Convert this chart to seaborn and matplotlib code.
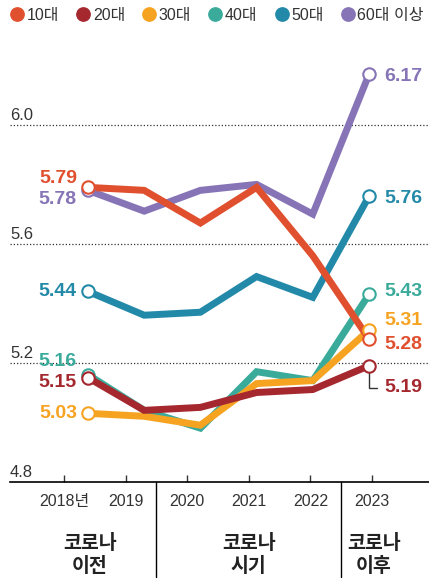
import numpy as np
import pandas as pd
import seaborn as sns
import matplotlib.pyplot as plt
from matplotlib.lines import Line2D

# values
years = [2018, 2019, 2020, 2021, 2022, 2023]
year_labels = ['2018년', '2019', '2020', '2021', '2022', '2023']
ages = ['10대', '20대', '30대', '40대', '50대', '60대 이상']
teens = [5.79, 5.78, 5.67, 5.79, 5.56, 5.28]
twenties = [5.15, 5.04, 5.05, 5.10, 5.11, 5.19]
thirties = [5.03, 5.02, 4.99, 5.13, 5.14, 5.31]
forties = [5.16, 5.04, 4.98, 5.17, 5.14, 5.43]
fifties = [5.44, 5.36, 5.37, 5.49, 5.42, 5.76]
sixties = [5.78, 5.71, 5.78, 5.80, 5.70, 6.17]
periods = ['코로나\n이전', '코로나\n시기', '코로나\n이후']
y_grid = [5.2, 5.6, 6.0]
y_labels = [4.8, 5.2, 5.6, 6.0]

colors = ['#e0502f', '#a5282f', '#f6a322', '#3aab9b', '#2389a8', '#8674b6']

series = [teens, twenties, thirties, forties, fifties, sixties]
df = pd.DataFrame({
    'year': years * len(ages),
    'age': [a for a in ages for _ in years],
    'value': [v for s in series for v in s],
})

sns.set_style('white')
plt.rcParams['font.family'] = ['Liberation Sans', 'Noto Sans CJK KR', 'DejaVu Sans']
txt = '#333333'

fig = plt.figure(figsize=(4.29, 5.82), dpi=100)
ax = fig.add_axes([10 / 429, 1 - 481.7 / 582, 419 / 429, (481.7 - 35.75) / 582])

# label offsets (points) for the end values
left_dy = [6.5, -3.6, 0, 9.4, 0, -6.8]
right_dy = [-4.3, -16, 7, 2, -1.4, -1.2]

for y in y_grid:
    ax.axhline(y, color=txt, lw=0.9, ls=(0, (1, 1.6)), zorder=1)

order = [5, 4, 3, 2, 0, 1]
for i in order:
    d = df[df['age'] == ages[i]]
    sns.lineplot(data=d, x='year', y='value', color=colors[i], lw=5,
                 ax=ax, legend=False, zorder=3 + order.index(i) * 0.1,
                 solid_joinstyle='miter')

# leader for 5.19
ax.plot([years[-1], years[-1], years[-1] + 0.14],
        [twenties[-1], twenties[-1] - 0.075, twenties[-1] - 0.075],
        color=txt, lw=1, zorder=2, solid_joinstyle='miter')

ends = df[df['year'].isin([years[0], years[-1]])]
for i in order:
    e = ends[ends['age'] == ages[i]]
    sns.scatterplot(data=e, x='year', y='value', ax=ax, s=80, color='white',
                    edgecolor=colors[i], linewidth=1.5, zorder=5, legend=False)

for i, s in enumerate(series):
    ax.annotate(f'{s[0]:.2f}', (years[0], s[0]), xytext=(-8, left_dy[i]),
                textcoords='offset points', ha='right', va='center',
                fontsize=14, fontweight='bold', color=colors[i])
    ax.annotate(f'{s[-1]:.2f}', (years[-1], s[-1]), xytext=(10.8, right_dy[i]),
                textcoords='offset points', ha='left', va='center',
                fontsize=14, fontweight='bold', color=colors[i])

for y in y_labels:
    ax.annotate(f'{y:.1f}', (0, y), xycoords=ax.get_yaxis_transform(),
                xytext=(0, 1.5), textcoords='offset points', ha='left',
                va='bottom', fontsize=12, color=txt)

ax.set_xlim(years[0] - 1.388, years[0] + 6.068)
ax.set_ylim(4.8, 6.3)
ax.set_yticks([])
ax.set_xlabel('')
ax.set_ylabel('')
for side in ['top', 'right', 'left']:
    ax.spines[side].set_visible(False)
ax.spines['bottom'].set_color('black')
ax.spines['bottom'].set_linewidth(1.2)

# year ticks sit on their own spacing in the original graphic
tick_x = [years[0] - 0.427 + 1.096 * k for k in range(len(years))]
ax.set_xticks(tick_x, year_labels)
ax.tick_params(axis='x', direction='in', length=5, width=1, color=txt,
               labelsize=11.5, labelcolor=txt, pad=9, bottom=True)

# period dividers and labels
div = [(tick_x[1] + tick_x[2]) / 2, (tick_x[4] + tick_x[5]) / 2]
trans = ax.get_xaxis_transform()
for x in div:
    ax.plot([x, x], [0, -0.213], color='black', lw=1, transform=trans, clip_on=False)
centers = [(tick_x[0] + tick_x[1]) / 2 - 0.09, tick_x[3], tick_x[5] + 0.03]
for x, p in zip(centers, periods):
    ax.text(x, -0.164, p, transform=trans, ha='center', va='center',
            fontsize=14, fontweight='bold', color='#222222', linespacing=1.3,
            family=['Noto Sans CJK KR'])

handles = [Line2D([], [], ls='', marker='o', ms=9.6, color=c) for c in colors]
fig.legend(handles, ages, loc='upper left', bbox_to_anchor=(0.007, 1.0),
           ncol=6, frameon=False, handlelength=0.8, handletextpad=0.2,
           columnspacing=1.1, fontsize=11.5, labelcolor=txt,
           borderaxespad=0.3, borderpad=0.2)

fig.savefig('out.png', dpi=100)
